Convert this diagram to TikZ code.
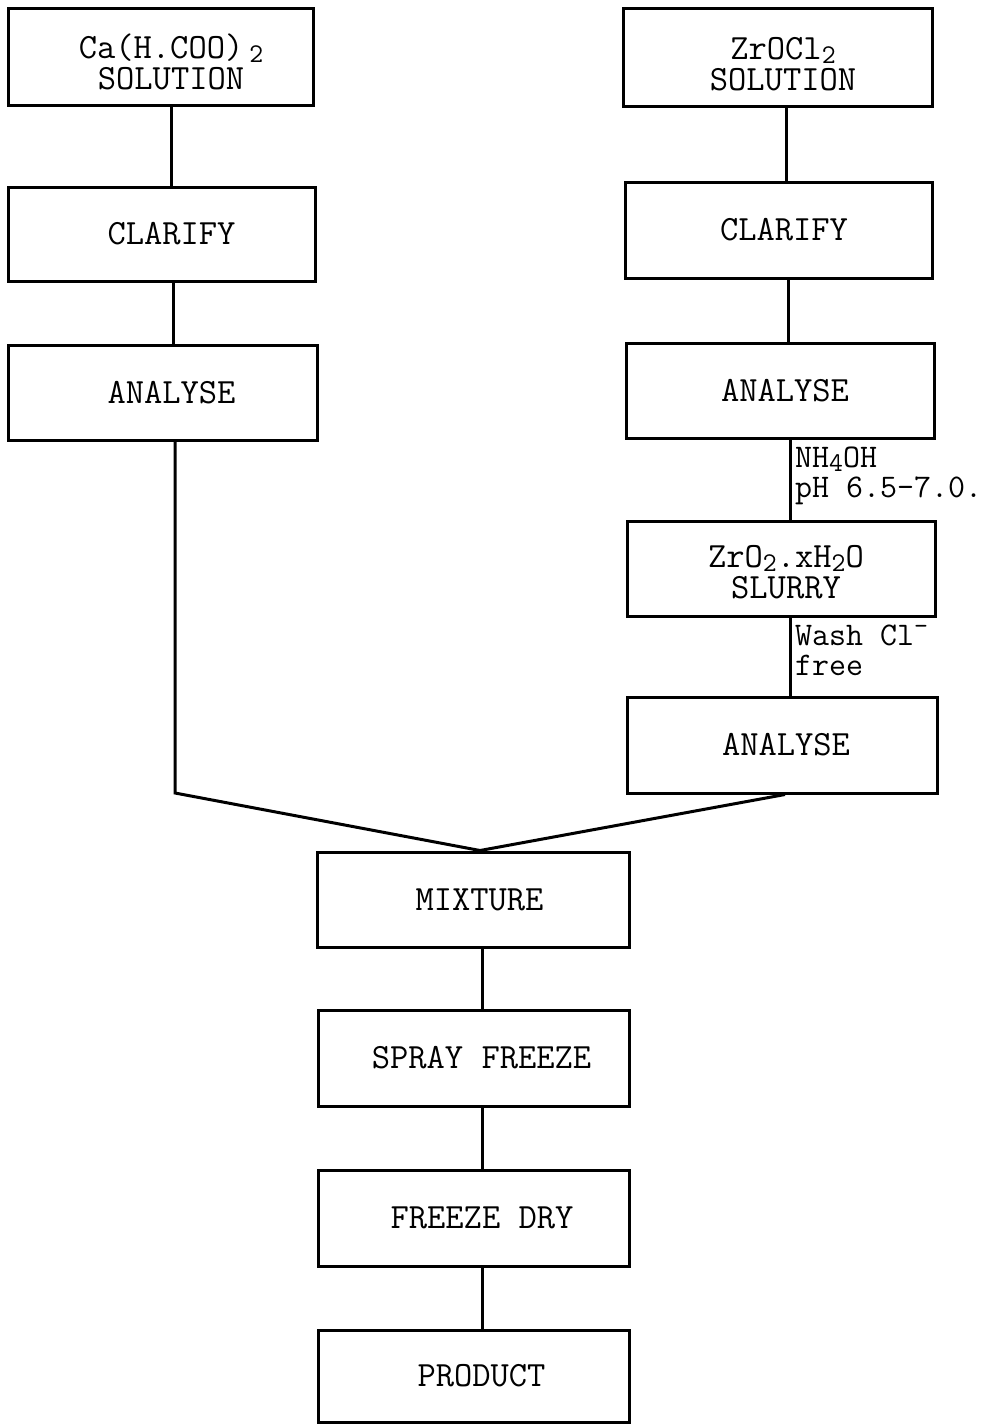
\documentclass[tikz,border=0pt]{standalone}
\usepackage{fontspec}
\newcommand\sbs[1]{\raisebox{-4pt}{\fontsize{27}{27}\selectfont #1}}
\newcommand\sps[1]{\raisebox{11pt}{\fontsize{27}{27}\selectfont #1}}
\newcommand\sh[1]{\hspace*{#1pt}}
\newcommand\tstrut{\rule{0pt}{36pt}}
\begin{document}
\begin{tikzpicture}[x=1pt,y=-1pt,
  box/.style={draw, line width=3pt, inner sep=0pt, align=center,
    font=\ttfamily\fontsize{35.5}{31}\selectfont},
  conn/.style={line width=3pt},
  note/.style={anchor=west, align=left, inner sep=0pt,
    font=\ttfamily\fontsize{33}{30}\selectfont}]
\useasboundingbox (0,0) rectangle (1003,1424);
% left column
\node[box, minimum width=305pt, minimum height=97pt] (casol) at (160.5,56.5)
  {\tstrut\sh{21}Ca(H.COO)\,\sbs{2}\\\sh{21}SOLUTION};
\node[box, minimum width=307pt, minimum height=94pt] (clar1) at (161.5,234) {\sh{20}CLARIFY};
\node[box, minimum width=309pt, minimum height=95pt] (ana1) at (162.5,392.5) {\sh{18}ANALYSE};
% right column
\node[box, minimum width=309pt, minimum height=98pt] (zrsol) at (777.5,57)
  {\tstrut\sh{11}ZrOCl\sbs{2}\\\sh{11}SOLUTION};
\node[box, minimum width=307pt, minimum height=96pt] (clar2) at (778.5,230) {\sh{11}CLARIFY};
\node[box, minimum width=308pt, minimum height=95pt] (ana2) at (780,390.5) {\sh{10}ANALYSE};
\node[box, minimum width=308pt, minimum height=95pt] (slurry) at (781,568.5)
  {\rule{0pt}{30pt}\sh{10}ZrO\sbs{2}.xH\sbs{2}O\\\sh{10}SLURRY};
\node[box, minimum width=310pt, minimum height=96pt] (ana3) at (782,745) {\sh{8}ANALYSE};
% centre column
\node[box, minimum width=312pt, minimum height=95pt] (mix) at (473,899.5) {\sh{13}MIXTURE};
\node[box, minimum width=311pt, minimum height=96pt] (spray) at (473.5,1058) {\sh{16}SPRAY FREEZE};
\node[box, minimum width=311pt, minimum height=96pt] (fdry) at (473.5,1218) {\sh{17}FREEZE DRY};
\node[box, minimum width=311pt, minimum height=92pt] (prod) at (473.5,1376) {\sh{16}PRODUCT};
% connectors
\draw[conn] (casol.south -| 171,0) -- (clar1.north -| 171,0);
\draw[conn] (clar1.south -| 173,0) -- (ana1.north -| 173,0);
\coordinate (lbend) at (175,793);
\coordinate (join) at (480,0);
\draw[conn] (ana1.south -| 175,0) -- (lbend) -- (mix.north -| join);
\draw[conn] (zrsol.south -| 786,0) -- (clar2.north -| 786,0);
\draw[conn] (clar2.south -| 788,0) -- (ana2.north -| 788,0);
\draw[conn] (ana2.south -| 790,0) -- (slurry.north -| 790,0);
\draw[conn] (slurry.south -| 790,0) -- (ana3.north -| 790,0);
\draw[conn] (ana3.south -| 785,0) -- (mix.north -| join);
\draw[conn] (mix.south -| 482,0) -- (spray.north -| 482,0);
\draw[conn] (spray.south -| 482,0) -- (fdry.north -| 482,0);
\draw[conn] (fdry.south -| 482,0) -- (prod.north -| 482,0);
% labels
\node[note] (lab1) at (795,476) {NH\sbs{4}OH\\pH 6.5-7.0.};
\node[note] (lab2) at (795,650) {Wash Cl\sps{-}\\free};
\end{tikzpicture}
\end{document}
